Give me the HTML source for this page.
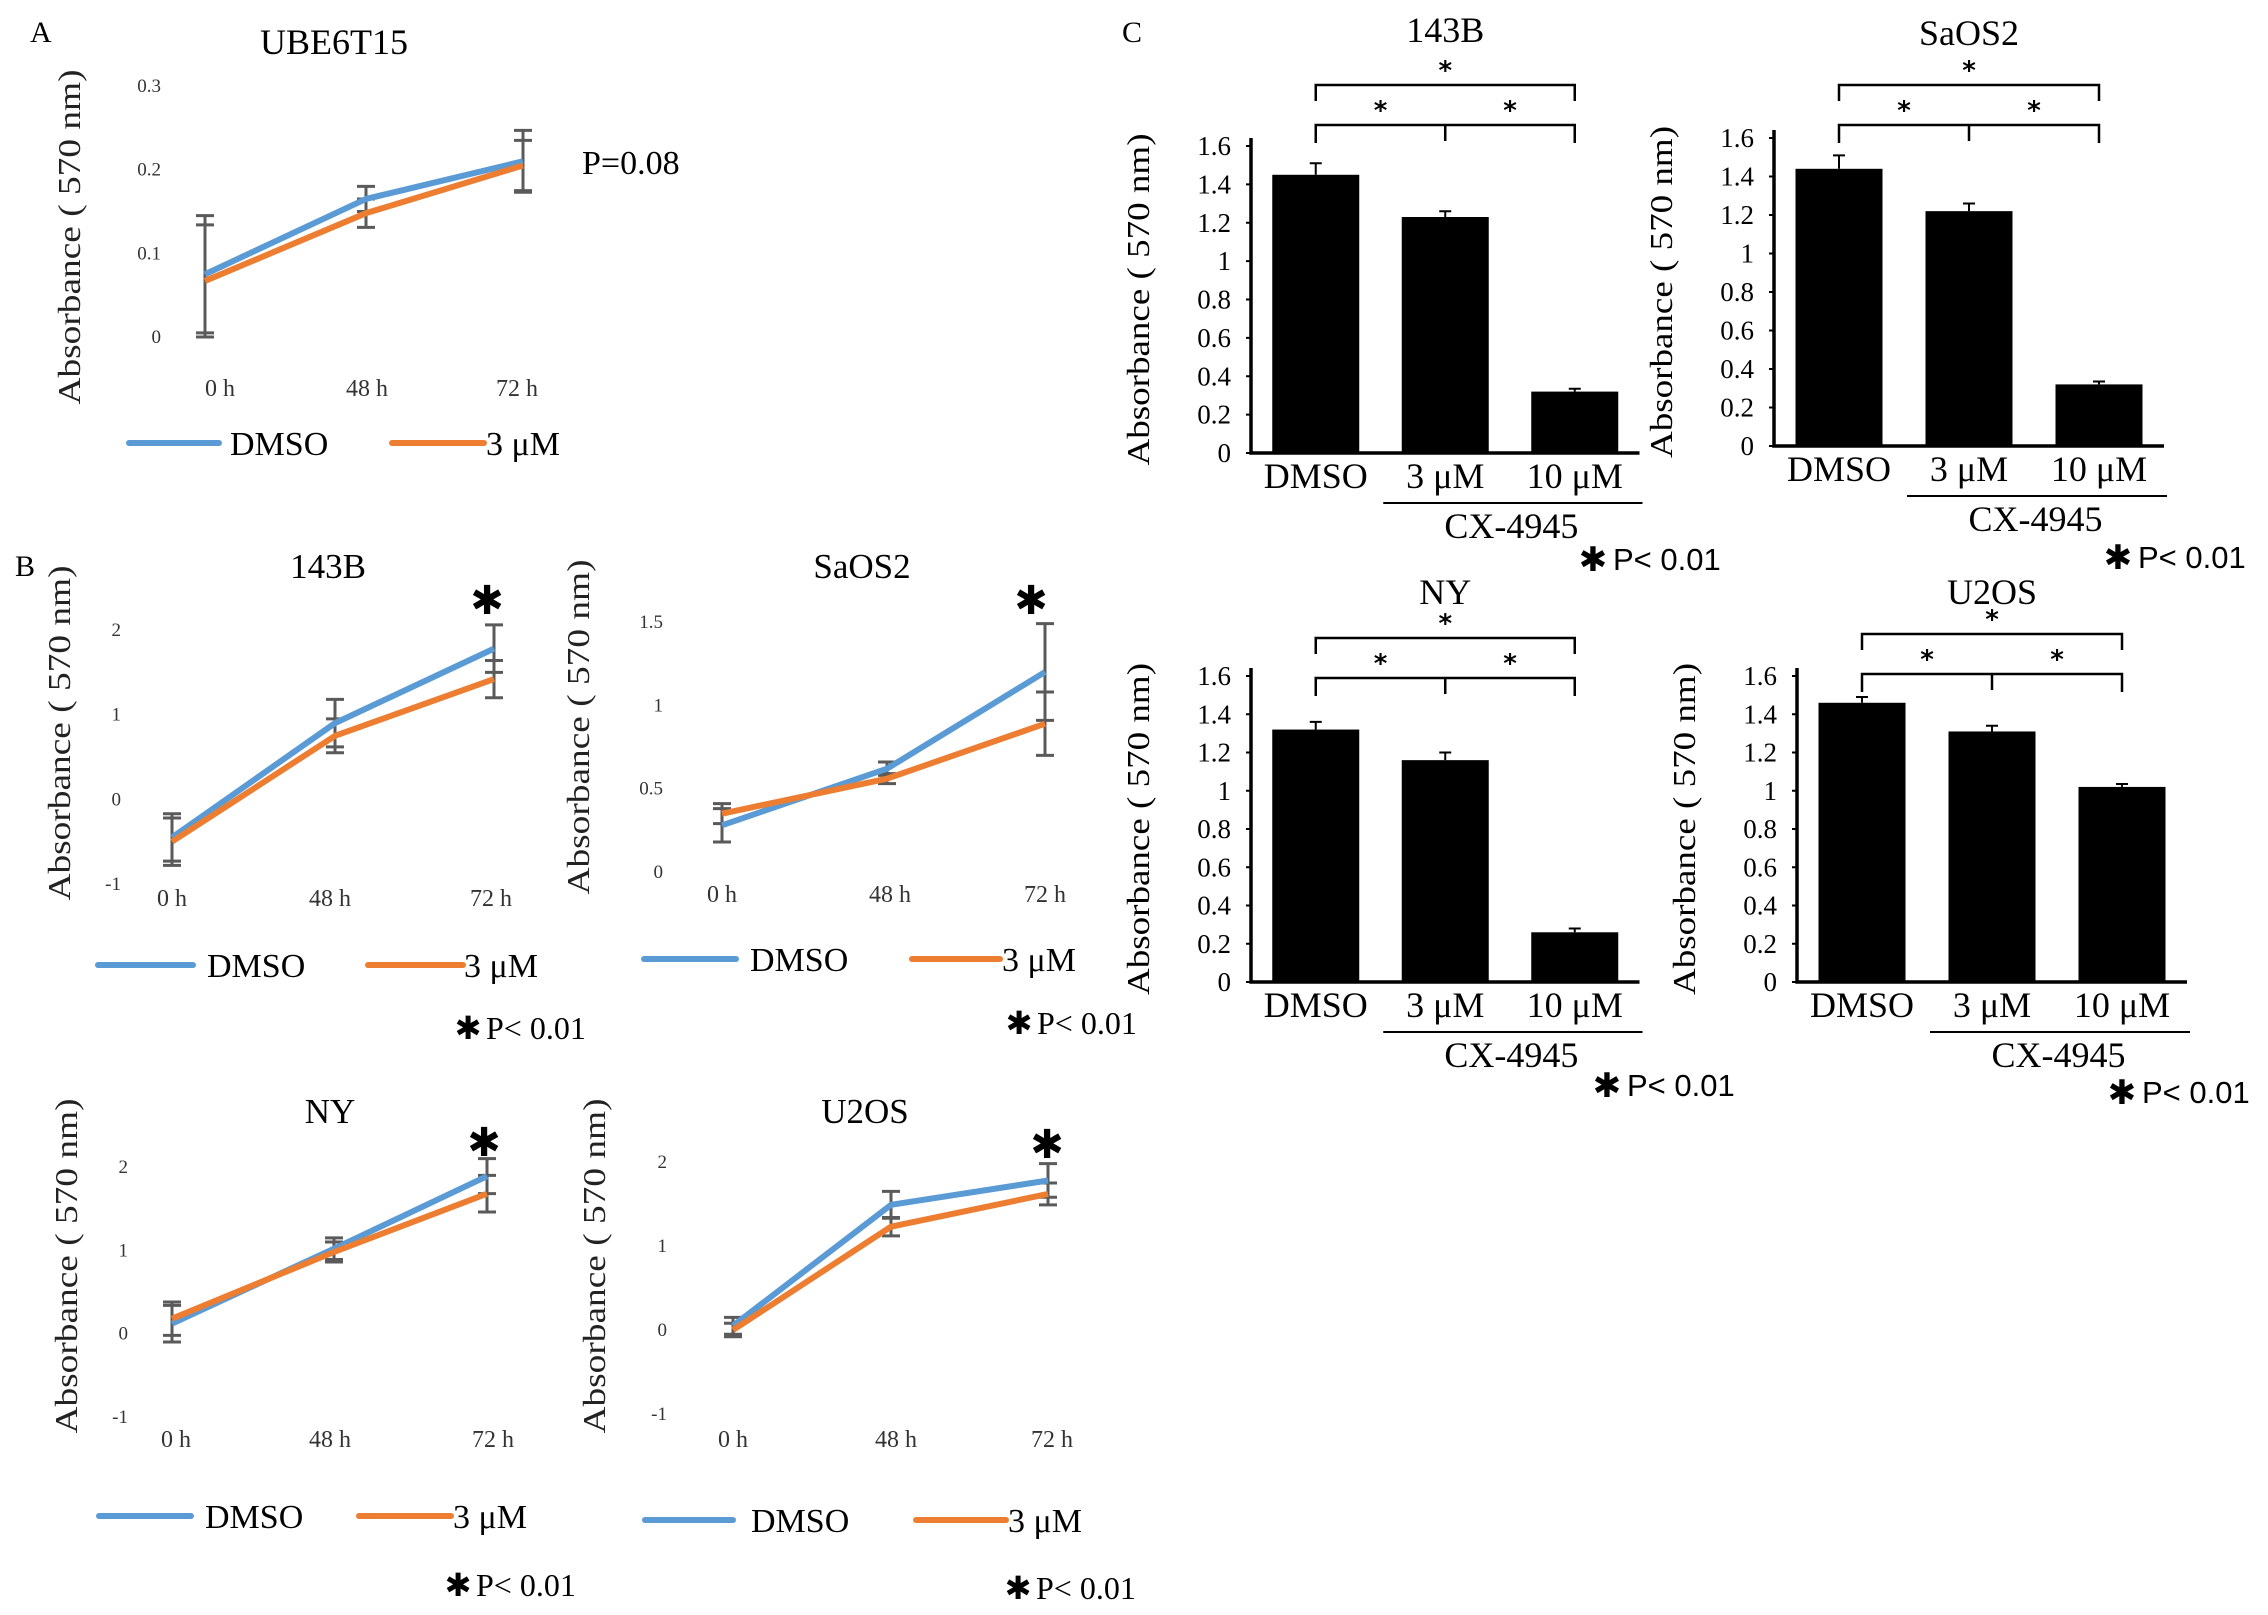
<!DOCTYPE html>
<html><head><meta charset="utf-8"><style>
html,body{margin:0;padding:0;background:#fff;}
svg{display:block;font-family:"Liberation Serif",serif;}
</style></head><body>
<svg id="fig" xmlns="http://www.w3.org/2000/svg" width="2268" height="1615" viewBox="0 0 2268 1615">
<rect width="2268" height="1615" fill="#fff"/>
<text x="30" y="42" font-size="30">A</text>
<text x="15" y="576" font-size="30">B</text>
<text x="1122" y="42" font-size="30">C</text>
</svg>
<script>
// ---- Line chart data ----
const timeLabels = ["0 h","48 h","72 h"];
const ubeTicks = [0,0.1,0.2,0.3];
const ubeDmso = [0.075,0.165,0.21];
const ubeDmsoErr = [0.07,0.015,0.037];
const ube3 = [0.067,0.148,0.205];
const ube3Err = [0.067,0.017,0.03];

const b143Ticks = [-1,0,1,2];
const b143Dmso = [-0.45,0.9,1.78];
const b143DmsoErr = [0.28,0.28,0.28];
const b1433 = [-0.5,0.75,1.42];
const b1433Err = [0.28,0.2,0.22];

const saosTicks = [0,0.5,1,1.5];
const saosDmso = [0.28,0.62,1.2];
const saosDmsoErr = [0.1,0.04,0.29];
const saos3 = [0.35,0.56,0.89];
const saos3Err = [0.06,0.03,0.19];

const nyTicks = [-1,0,1,2];
const nyDmso = [0.12,1.02,1.89];
const nyDmsoErr = [0.22,0.13,0.21];
const ny3 = [0.18,0.98,1.68];
const ny3Err = [0.2,0.12,0.22];

const u2Ticks = [-1,0,1,2];
const u2Dmso = [0.05,1.49,1.78];
const u2DmsoErr = [0.1,0.16,0.2];
const u23 = [0.0,1.23,1.62];
const u23Err = [0.08,0.11,0.13];

// ---- Bar chart data ----
const barCats = ["DMSO","3 μM","10 μM"];
const barTicks = [0,0.2,0.4,0.6,0.8,1,1.2,1.4,1.6];
const c143Vals = [1.45,1.23,0.32];
const c143Err = [0.06,0.03,0.015];
const cSaosVals = [1.44,1.22,0.32];
const cSaosErr = [0.07,0.04,0.015];
const cNyVals = [1.32,1.16,0.26];
const cNyErr = [0.04,0.04,0.02];
const cU2Vals = [1.46,1.31,1.02];
const cU2Err = [0.03,0.03,0.015];

const NS="http://www.w3.org/2000/svg";
const svg=document.getElementById('fig');
function el(tag,attrs,parent,txt){const e=document.createElementNS(NS,tag);for(const k in attrs)e.setAttribute(k,attrs[k]);if(txt!==undefined)e.textContent=txt;(parent||svg).appendChild(e);return e;}

function lineChart(c){
  const g=el('g',{});
  
  
  const t0=c.ticks[0],t1=c.ticks[c.ticks.length-1];
  const y=v=>c.yBot+(v-t0)*(c.yTop-c.yBot)/(t1-t0);
  const x=i=>c.xs[i];
  const tt=el('text',{x:c.titleX,y:c.titleY,'font-size':c.titleSize||35,'text-anchor':'middle'},g,c.title);
  
  
  c.ticks.forEach(v=>{const t=el('text',{x:c.tickR,y:y(v)+6,'font-size':19,'text-anchor':'end',fill:'#333'},g,String(v));
    
    });
  timeLabels.forEach((l,i)=>{const t=el('text',{x:c.labX[i],y:c.labY,'font-size':24,'text-anchor':'middle',fill:'#333'},g,l);
    
    });
  const yt=el('text',{x:0,y:0,'font-size':32,'text-anchor':'middle',transform:`translate(${c.ytX},${c.ytY}) rotate(-90)`,textLength:335,lengthAdjust:'spacingAndGlyphs',fill:'#222'},g,'Absorbance ( 570 nm)');
  
  
  [[c.d,c.de],[c.o,c.oe]].forEach(([vals,errs])=>{
    vals.forEach((v,i)=>{
      const a=y(v+errs[i]),b=y(v-errs[i]);
      const eb=el('path',{d:`M${x(i)},${a}V${b}M${x(i)-9},${a}H${x(i)+9}M${x(i)-9},${b}H${x(i)+9}`,stroke:'#5a5a5a','stroke-width':3,fill:'none'},g);
      
      
    });
  });
  const series=[[c.d,'#5b9bd5','dmso-line'],[c.o,'#ed7d31','3um-line']];
  series.forEach(([vals,col,nm])=>{
    const p=el('polyline',{points:vals.map((v,i)=>x(i)+','+y(v)).join(' '),stroke:col,'stroke-width':6,fill:'none','stroke-linejoin':'round'},g);
    
    
  });
  const L=c.leg;
  const l1=el('line',{x1:L.b1,x2:L.b2,y1:L.y,y2:L.y,stroke:'#5b9bd5','stroke-width':6,'stroke-linecap':'round'},g);
  
  
  const lt1=el('text',{x:L.bt,y:L.y+12,'font-size':34},g,'DMSO');
  
  
  const l2=el('line',{x1:L.o1,x2:L.o2,y1:L.y,y2:L.y,stroke:'#ed7d31','stroke-width':6,'stroke-linecap':'round'},g);
  
  
  const lt2=el('text',{x:L.ot,y:L.y+12,'font-size':34},g,'3 μM');
  
  
  if(c.star){const s=el('text',{x:c.star[0],y:c.star[1]+14,'font-size':40,'text-anchor':'middle','font-family':'DejaVu Sans'},g,'✱');
    
    }
  if(c.p){const s=el('text',{x:c.p[0],y:c.p[1]+11,'font-size':32,'text-anchor':'middle','font-family':'DejaVu Sans'},g,'✱');
    
    
    const t=el('text',{x:c.p[0]+18,y:c.p[1]+11,'font-size':32},g,'P< 0.01');
    
    }
}

lineChart({name:'chart-ube6t15',title:'UBE6T15',titleX:334,titleY:54,titleSize:36,ticks:ubeTicks,yBot:337,yTop:86,tickR:161,
  xs:[205,366,523],labX:[220,367,517],labY:396,ytX:80,ytY:237,d:ubeDmso,de:ubeDmsoErr,o:ube3,oe:ube3Err,
  leg:{y:443,b1:129,b2:219,bt:230,o1:392,o2:484,ot:486}});
lineChart({name:'chart-143b-line',title:'143B',titleX:328,titleY:578,ticks:b143Ticks,yBot:884,yTop:630,tickR:121,
  xs:[172,335,494],labX:[172,330,491],labY:906,ytX:70,ytY:733,d:b143Dmso,de:b143DmsoErr,o:b1433,oe:b1433Err,
  leg:{y:965,b1:98,b2:193,bt:207,o1:368,o2:463,ot:464},star:[487,600],p:[468,1028]});
lineChart({name:'chart-saos2-line',title:'SaOS2',titleX:862,titleY:578,ticks:saosTicks,yBot:872,yTop:622,tickR:663,
  xs:[722,887,1045],labX:[722,890,1045],labY:902,ytX:589,ytY:727,d:saosDmso,de:saosDmsoErr,o:saos3,oe:saos3Err,
  leg:{y:959,b1:644,b2:736,bt:750,o1:912,o2:1000,ot:1002},star:[1031,600],p:[1019,1023]});
lineChart({name:'chart-ny-line',title:'NY',titleX:330,titleY:1123,ticks:nyTicks,yBot:1417,yTop:1167,tickR:128,
  xs:[172,334,487],labX:[176,330,493],labY:1447,ytX:77,ytY:1266,d:nyDmso,de:nyDmsoErr,o:ny3,oe:ny3Err,
  leg:{y:1516,b1:99,b2:191,bt:205,o1:359,o2:451,ot:453},star:[484,1142],p:[458,1585]});
lineChart({name:'chart-u2os-line',title:'U2OS',titleX:865,titleY:1123,ticks:u2Ticks,yBot:1414,yTop:1162,tickR:667,
  xs:[733,891,1048],labX:[733,896,1052],labY:1447,ytX:605,ytY:1266,d:u2Dmso,de:u2DmsoErr,o:u23,oe:u23Err,
  leg:{y:1520,b1:645,b2:733,bt:751,o1:916,o2:1006,ot:1008},star:[1047,1144],p:[1018,1588]});
(function(){const t=el('text',{x:582,y:174,'font-size':34},svg,'P=0.08');

})();

function barChart(c){
  const g=el('g',{});
  
  
  const t0=barTicks[0],t1=barTicks[barTicks.length-1];
  const y=v=>c.y0+(v-t0)*(c.y16-c.y0)/(t1-t0);
  const step=c.step, x=i=>c.ax+step*(i+0.5);
  const bw=87;
  const tt=el('text',{x:x(1),y:c.titleY,'font-size':36,'text-anchor':'middle'},g,c.title);
  
  
  barTicks.forEach(v=>{const t=el('text',{x:c.ax-20,y:y(v)+9,'font-size':27,'text-anchor':'end'},g,String(v));
    
    
    const tk=el('line',{x1:c.ax-5,x2:c.ax,y1:y(v),y2:y(v),stroke:'#000','stroke-width':2},g);
    
    });
  c.vals.forEach((v,i)=>{
    const r=el('rect',{x:x(i)-bw/2,y:y(v),width:bw,height:c.y0-y(v),fill:'#000'},g);
    
    
    const e=y(v+c.err[i]);
    const eb=el('path',{d:`M${x(i)},${y(v)}V${e}M${x(i)-6},${e}H${x(i)+6}`,stroke:'#000','stroke-width':2,fill:'none'},g);
    
    
    const lab=el('text',{x:x(i),y:c.y0+35,'font-size':36,'text-anchor':'middle'},g,barCats[i]);
    
    
  });
  const ax=el('path',{d:`M${c.ax},${c.y16-8}V${c.y0}H${c.ax+step*3}`,stroke:'#000','stroke-width':3.5,fill:'none'},g);
  
  
  const yt=el('text',{x:0,y:0,'font-size':32,'text-anchor':'middle',transform:`translate(${c.ax-102},${(c.y0+c.y16)/2}) rotate(-90)`,textLength:332,lengthAdjust:'spacingAndGlyphs'},g,'Absorbance ( 570 nm)');
  
  
  const ul=el('line',{x1:x(1)-62,x2:c.ax+step*3+3,y1:c.y0+50,y2:c.y0+50,stroke:'#000','stroke-width':2},g);
  
  
  const cx=el('text',{x:(x(1)-62+c.ax+step*3)/2,y:c.y0+85,'font-size':36,'text-anchor':'middle'},g,'CX-4945');
  
  
  const bt=c.y0-c.bOff;
  const br=el('path',{d:`M${x(0)},${bt+16}V${bt}H${x(2)}V${bt+16}M${x(0)},${bt+58}V${bt+40}H${x(2)}V${bt+58}M${x(1)},${bt+40}V${bt+56}`,stroke:'#000','stroke-width':2.5,fill:'none'},g);
  
  
  [[x(1),bt-6],[(x(0)+x(1))/2,bt+34],[(x(1)+x(2))/2,bt+34]].forEach(p=>{
    const s=el('text',{x:p[0],y:p[1],'font-size':26,'text-anchor':'middle','font-family':'DejaVu Sans','font-weight':'bold'},g,'*');
    
    });
  const ps=el('text',{x:c.p[0],y:c.p[1]+12,'font-size':34,'text-anchor':'middle','font-family':'DejaVu Sans'},g,'✱');
  
  
  const pt=el('text',{x:c.p[0]+20,y:c.p[1]+11,'font-size':31,'font-family':'Liberation Sans'},g,'P< 0.01');
  
  
}
barChart({name:'chart-143b-bar',title:'143B',titleY:42,ax:1251,y0:453,y16:146,step:129.5,vals:c143Vals,err:c143Err,bOff:368,p:[1593,559]});
barChart({name:'chart-saos2-bar',title:'SaOS2',titleY:45,ax:1774,y0:446,y16:138,step:130,vals:cSaosVals,err:cSaosErr,bOff:361,p:[2118,557]});
barChart({name:'chart-ny-bar',title:'NY',titleY:604,ax:1251,y0:982,y16:676,step:129.5,vals:cNyVals,err:cNyErr,bOff:344,p:[1607,1085]});
barChart({name:'chart-u2os-bar',title:'U2OS',titleY:604,ax:1797,y0:982,y16:676,step:130,vals:cU2Vals,err:cU2Err,bOff:348,p:[2122,1092]});
</script>
</body></html>
